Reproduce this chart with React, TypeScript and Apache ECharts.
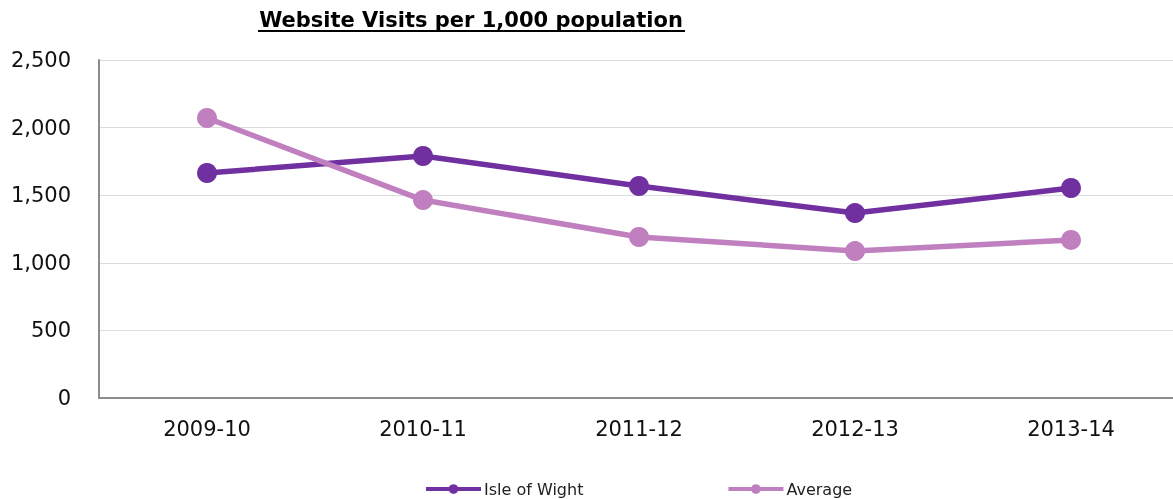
import React, { useEffect, useRef } from "react";
import * as echarts from "echarts";

const categories = ["2009-10", "2010-11", "2011-12", "2012-13", "2013-14"];
const isleOfWight = [1664, 1790, 1568, 1368, 1553];
const average = [2071, 1464, 1191, 1087, 1169];
const yTicks = { min: 0, max: 2500, interval: 500 };

export default function App() {
  const ref = useRef<HTMLDivElement>(null);
  useEffect(() => {
    if (!ref.current) return;
    const chart = echarts.init(ref.current, undefined, { renderer: "svg" });
    const font = "Verdana, 'DejaVu Sans', sans-serif";
    chart.setOption({
      animation: false,
      textStyle: { fontFamily: font },
      graphic: [
        {
          type: "text",
          x: 471,
          y: 20,
          style: {
            text: "Website Visits per 1,000 population",
            font: `bold 21px ${font}`,
            fill: "#000",
            textAlign: "center",
            textVerticalAlign: "middle",
          },
        },
        {
          type: "line",
          shape: { x1: 258, y1: 31, x2: 685, y2: 31 },
          style: { stroke: "#000", lineWidth: 2 },
        },
      ],
      legend: {
        left: 424,
        top: 481,
        padding: 0,
        itemWidth: 55,
        itemHeight: 12,
        itemGap: 143,
        lineStyle: { width: 4 },
        textStyle: { fontSize: 16, color: "#222", fontFamily: font, padding: [0, 0, 0, -2] },
        data: ["Isle of Wight", "Average"],
      },
      grid: { left: 99, right: 0, top: 60, bottom: 101, containLabel: false },
      xAxis: {
        type: "category",
        data: categories,
        boundaryGap: true,
        axisLine: { lineStyle: { color: "#8c8c8c", width: 2 } },
        axisTick: { show: false },
        axisLabel: { fontSize: 21, color: "#111", margin: 20 },
      },
      yAxis: {
        type: "value",
        min: yTicks.min,
        max: yTicks.max,
        interval: yTicks.interval,
        axisLine: { show: true, lineStyle: { color: "#8c8c8c", width: 2 } },
        axisTick: { show: false },
        axisLabel: {
          fontSize: 21,
          color: "#111",
          margin: 28,
          formatter: (v: number) => v.toLocaleString("en-US"),
        },
        splitLine: { lineStyle: { color: "#dcdcdc", width: 1 } },
      },
      series: [
        {
          name: "Isle of Wight",
          type: "line",
          data: isleOfWight,
          symbol: "circle",
          symbolSize: 20,
          itemStyle: { color: "#7030A0" },
          lineStyle: { color: "#7030A0", width: 5.5 },
        },
        {
          name: "Average",
          type: "line",
          data: average,
          symbol: "circle",
          symbolSize: 20,
          itemStyle: { color: "#C080C0" },
          lineStyle: { color: "#C080C0", width: 5.5 },
        },
      ],
    });
    return () => chart.dispose();
  }, []);
  return (
    <div
      ref={ref}
      style={{ position: "fixed", left: 0, top: 0, width: 1179, height: 499 }}
    />
  );
}
